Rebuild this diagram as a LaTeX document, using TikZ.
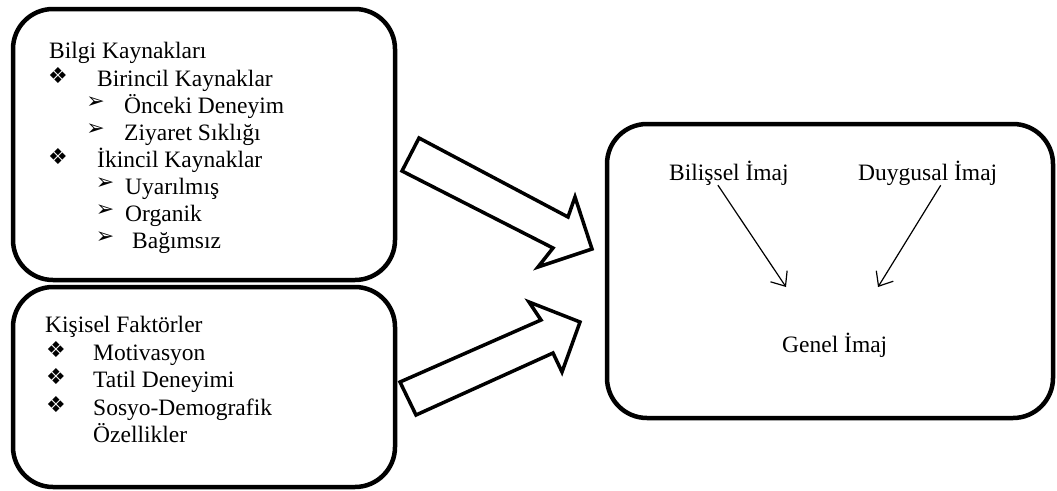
\documentclass[tikz,border=0pt]{standalone}
\usepackage{fontspec}
\setmainfont{Liberation Serif}
\newfontfamily\dingfont{DejaVu Sans}
\usetikzlibrary{arrows.meta}
\tikzset{
panel/.style={line width=4.5pt,rounded corners=40pt},
blockarrow/.style={line width=3.5pt,line join=miter},
txt/.style={anchor=base west,inner sep=0pt,font=\fontsize{23.5}{27}\selectfont},
bul/.style={anchor=center,inner sep=0pt,font=\dingfont\fontsize{22}{24}\selectfont},
thinarrow/.style={line width=1.2pt,-{Straight Barb[length=12pt,width=20pt]}}
}
\begin{document}
\begin{tikzpicture}[x=1pt,y=-1pt]
\useasboundingbox(0,0)rectangle(1057,490);
\draw[panel](13,9)rectangle(395,280);
\draw[panel](13,287)rectangle(395,487);
\draw[panel](607,124)rectangle(1053,418);
\node[txt](bilgi)at(49,58){Bilgi Kaynakları};
\node[bul](d1)at(58,75.5){❖};
\node[txt](bir)at(97,86){Birincil Kaynaklar};
\node[bul](a1)at(95.5,103){➢};
\node[txt](onc)at(124,113){Önceki Deneyim};
\node[bul](a2)at(95.5,130){➢};
\node[txt](ziy)at(124,140){Ziyaret Sıklığı};
\node[bul](d2)at(58,156.5){❖};
\node[txt](iki)at(97,167){İkincil Kaynaklar};
\node[bul](a3)at(105,184){➢};
\node[txt](uya)at(125,194){Uyarılmış};
\node[bul](a4)at(105,211){➢};
\node[txt](org)at(125,221){Organik};
\node[bul](a5)at(105,238){➢};
\node[txt](bag)at(132,248){Bağımsız};
\node[txt](kis)at(45,332){Kişisel Faktörler};
\node[bul](d3)at(56,349.5){❖};
\node[txt](mot)at(93,360){Motivasyon};
\node[bul](d4)at(56,376.5){❖};
\node[txt](tat)at(93,387){Tatil Deneyimi};
\node[bul](d5)at(56,404.5){❖};
\node[txt](sos)at(93,415){Sosyo-Demografik};
\node[txt](oz)at(93,442){Özellikler};
\draw[blockarrow](419,138)--(568,217)--(575,197)--(592,249)--(538,267)--(553,248)--(402,171)--cycle;
\draw[blockarrow](400,382)--(541,320)--(529,302)--(580,322)--(562,372)--(553,353)--(416,415)--cycle;
\node[txt](bil)at(669,180){Bilişsel İmaj};
\node[txt](duy)at(858,180){Duygusal İmaj};
\node[txt](gen)at(782,352){Genel İmaj};
\coordinate(bilend)at(786,287);
\coordinate(duyend)at(878,287);
\draw[thinarrow]([xshift=-11pt]bil.south)--(bilend);
\draw[thinarrow]([xshift=13pt]duy.south)--(duyend);
\end{tikzpicture}
\end{document}
